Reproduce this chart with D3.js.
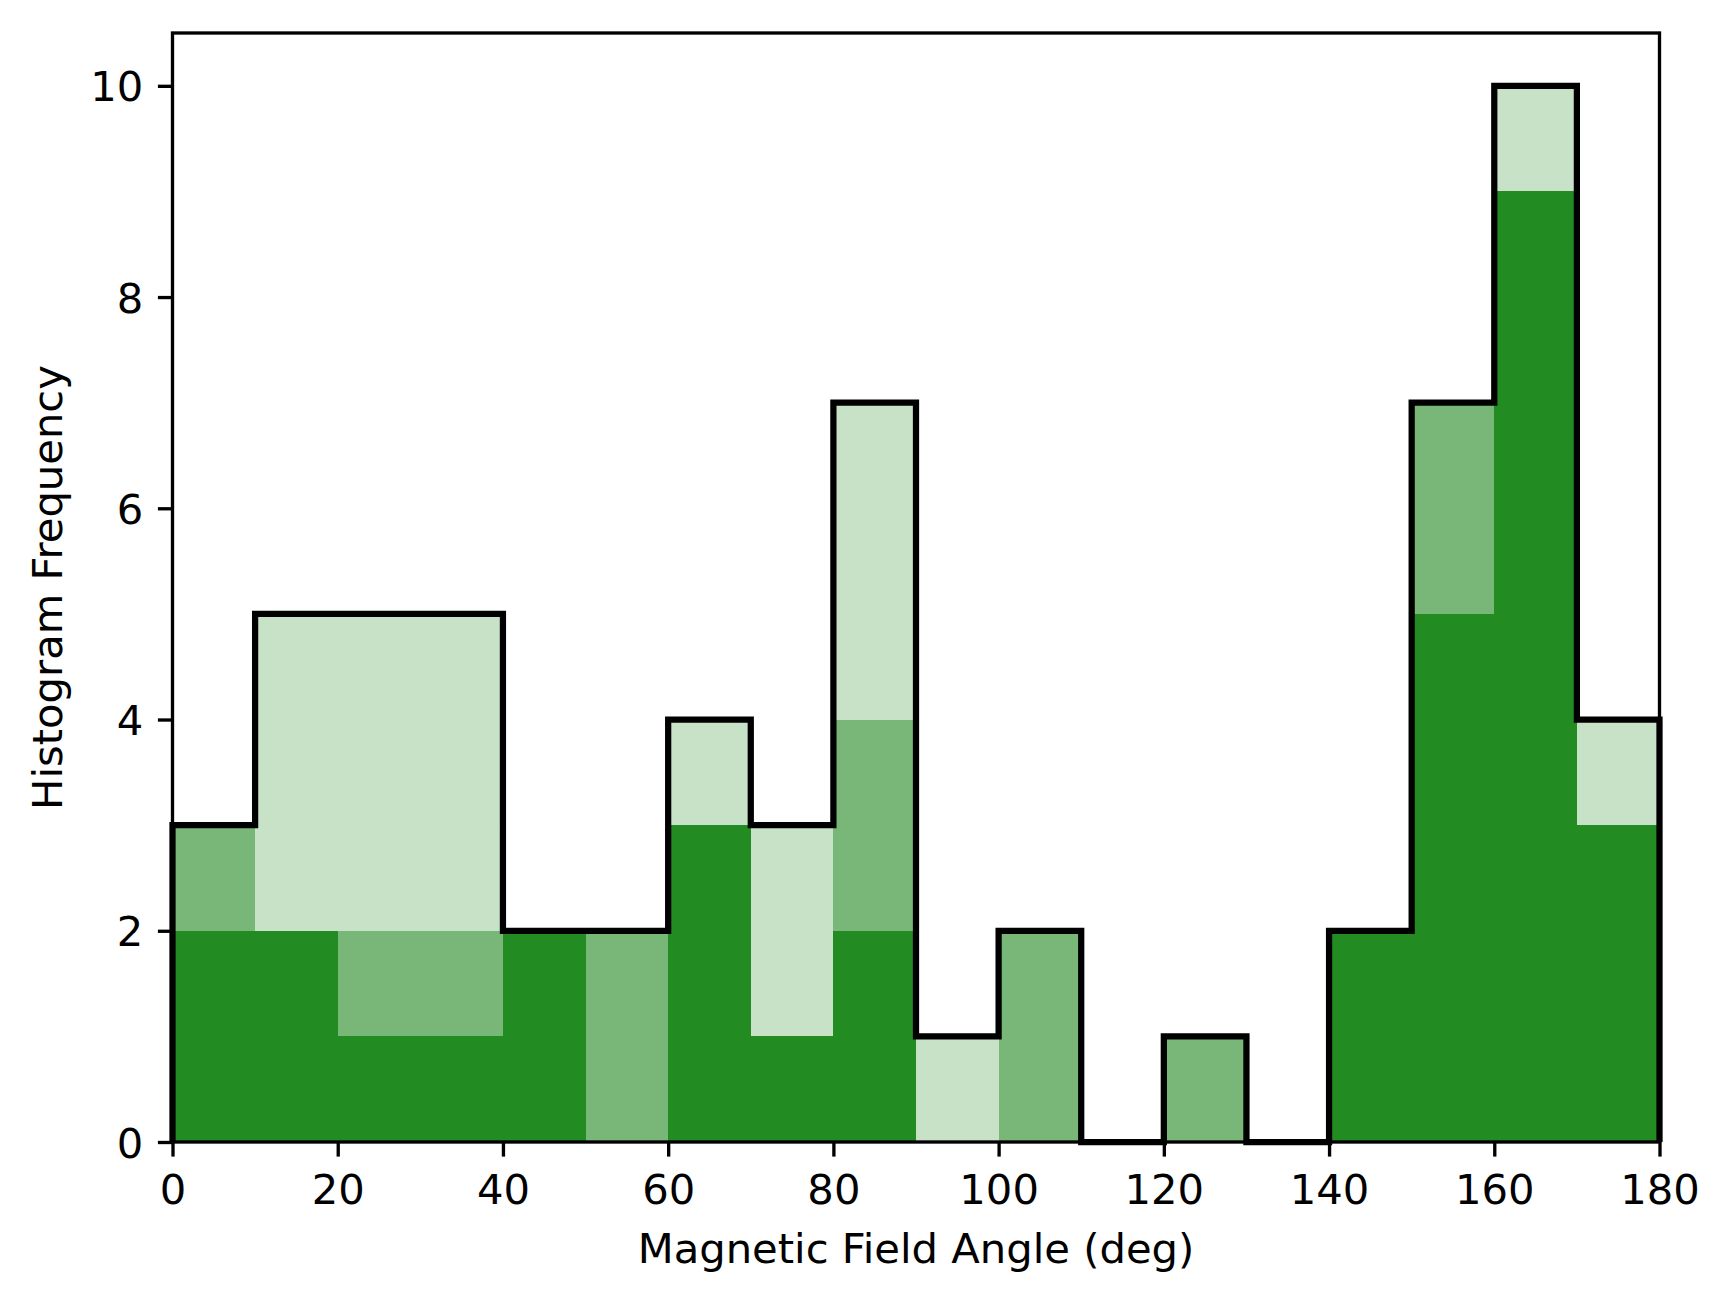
<!DOCTYPE html>
<html>
<head>
<meta charset="utf-8">
<script src="https://cdn.jsdelivr.net/npm/d3@7"></script>
<style>
  html, body { margin: 0; padding: 0; background: #ffffff; }
  svg { display: block; }
  text { font-family: "DejaVu Sans", sans-serif; }
</style>
</head>
<body>
<svg id="chart" width="1728" height="1302"></svg>
<script>
// ---- Data ----
const binEdges = [0,10,20,30,40,50,60,70,80,90,100,110,120,130,140,150,160,170,180];
const totalCounts = [3,5,5,5,2,2,4,3,7,1,2,0,1,0,2,7,10,4];
const midCounts   = [3,2,2,2,2,2,3,1,4,0,2,0,1,0,2,7,9,3];
const darkCounts  = [2,2,1,1,2,0,3,1,2,0,0,0,0,0,2,5,9,3];
const xTicks = [0,20,40,60,80,100,120,140,160,180];
const yTicks = [0,2,4,6,8,10];
const xLabel = "Magnetic Field Angle (deg)";
const yLabel = "Histogram Frequency";

// ---- Layout ----
const svg = d3.select("#chart");
const L = 172.5, R = 1659.5, T = 33, B = 1142;
const fontSize = 41.7;
const tickLen = 14.6, tickPad = 14.6, tickW = 3.33;

const x = d3.scaleLinear().domain([0, 180]).range([L, R]);
const y = d3.scaleLinear().domain([0, 10.5]).range([B, T]);

svg.append("rect").attr("x",0).attr("y",0).attr("width",1728).attr("height",1302).attr("fill","#fff");

const bins = totalCounts.map((t, i) => ({
  x0: binEdges[i], x1: binEdges[i+1], total: t, mid: midCounts[i], dark: darkCounts[i]
}));

function drawLayer(key, color) {
  svg.append("g").selectAll("rect")
    .data(bins.filter(d => d[key] > 0))
    .join("rect")
    .attr("x", d => x(d.x0))
    .attr("width", d => x(d.x1) - x(d.x0) + 0.3)
    .attr("y", d => y(d[key]))
    .attr("height", d => y(0) - y(d[key]))
    .attr("fill", color)
    .attr("shape-rendering", "crispEdges");
}
drawLayer("total", "#c8e2c8");
drawLayer("mid", "#78b778");
drawLayer("dark", "#228b22");

// step outline of totals
const stepPts = [[0, 0]];
bins.forEach(d => { stepPts.push([d.x0, d.total]); stepPts.push([d.x1, d.total]); });
stepPts.push([180, 0]);
svg.append("path")
  .attr("d", d3.line().x(p => x(p[0])).y(p => y(p[1]))(stepPts))
  .attr("fill", "none")
  .attr("stroke", "#000")
  .attr("stroke-width", 6.25)
  .attr("stroke-linejoin", "miter");

// axes
const xAxis = d3.axisBottom(x).tickValues(xTicks).tickSize(tickLen).tickPadding(tickPad).tickFormat(d3.format("d"));
const yAxis = d3.axisLeft(y).tickValues(yTicks).tickSize(tickLen).tickPadding(tickPad).tickFormat(d3.format("d"));

const gx = svg.append("g").attr("transform", `translate(0,${B})`).call(xAxis);
const gy = svg.append("g").attr("transform", `translate(${L},0)`).call(yAxis);
[gx, gy].forEach(g => {
  g.select(".domain").remove();
  g.selectAll(".tick line").attr("stroke", "#000").attr("stroke-width", tickW);
  g.selectAll(".tick text").attr("fill", "#000").style("font-size", fontSize + "px")
    .style("font-family", "'DejaVu Sans', sans-serif");
});
gx.selectAll(".tick text").attr("dy", "0.78em");
gy.selectAll(".tick text").attr("dy", "0.36em");

// spines
svg.append("rect")
  .attr("x", L).attr("y", T).attr("width", R - L).attr("height", B - T)
  .attr("fill", "none").attr("stroke", "#000").attr("stroke-width", tickW);

// labels
svg.append("text")
  .attr("x", (L + R) / 2).attr("y", 1263)
  .attr("text-anchor", "middle")
  .style("font-size", fontSize + "px")
  .attr("fill", "#000")
  .text(xLabel);

svg.append("text")
  .attr("transform", `translate(62,${(T + B) / 2}) rotate(-90)`)
  .attr("text-anchor", "middle")
  .style("font-size", fontSize + "px")
  .attr("fill", "#000")
  .text(yLabel);
</script>
</body>
</html>
